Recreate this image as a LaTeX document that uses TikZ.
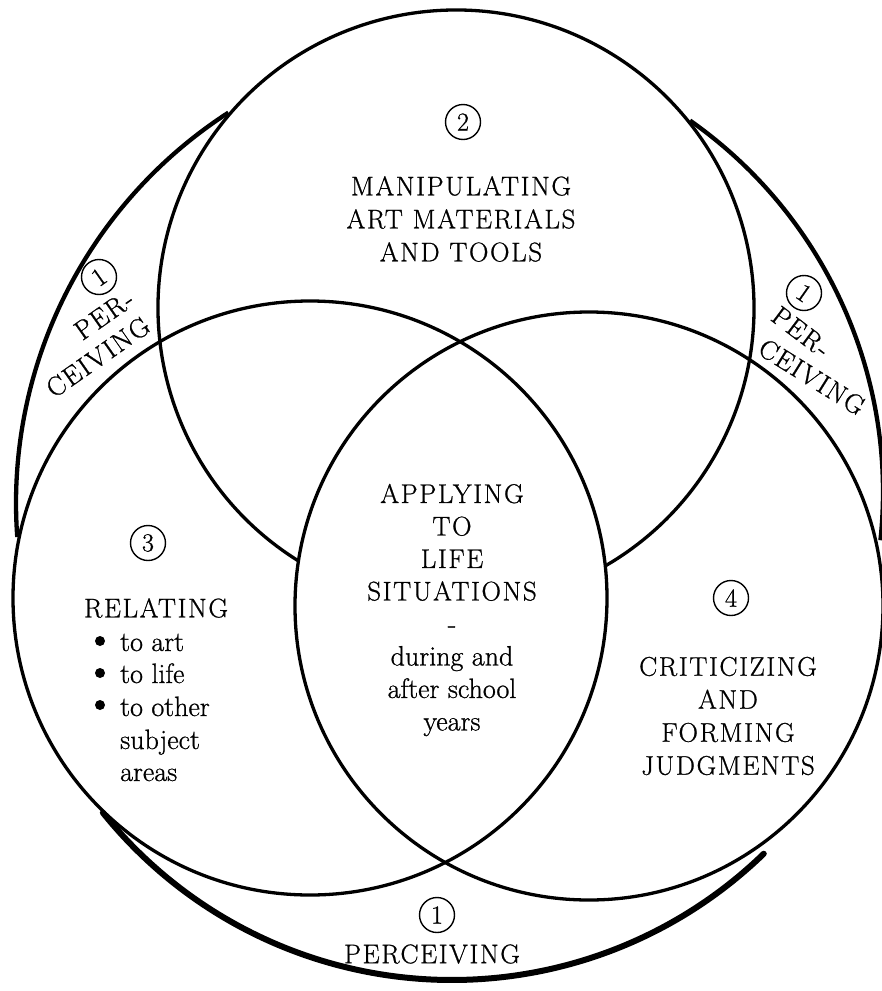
\documentclass[tikz,border=0pt]{standalone}
\usepackage{fontspec}
\setmainfont{Latin Modern Roman}[FakeBold=0.8]
\begin{document}
\begin{tikzpicture}[x=1pt,y=-1pt,
  ring/.style={line width=3.3pt},
  outerarc/.style={line width=4.3pt},
  bottomarc/.style={line width=6pt, line cap=round},
  capsfont/.style={font=\fontsize{27}{33}\selectfont\addfontfeature{LetterSpace=6}},
  lowfont/.style={font=\fontsize{28}{32.5}\selectfont},
  num/.style={draw, circle, line width=1.4pt, minimum size=35pt, inner sep=0pt, font=\fontsize{26}{26}\selectfont},
  lbl/.style={inner sep=0pt}]
\useasboundingbox (0,0) rectangle (882,991);
% three main circles
\draw[ring] (310,598) circle[radius=297];
\draw[ring] (589,606) circle[radius=294];
\draw[ring] (456,308) ++(121.9:298) arc[start angle=121.9, end angle=419.9, radius=298];
% outer "perceiving" arcs
\draw[outerarc] (481,503) ++(175.8:465) arc[start angle=175.8, end angle=237.1, radius=465];
\draw[outerarc] (429,492) ++(-54.9:454) arc[start angle=-54.9, end angle=6.1, radius=454];
\draw[bottomarc] (452,532) ++(45.9:448) arc[start angle=45.9, end angle=141.2, radius=448];
% top circle
\node[num] (n2) at (463,122) {2};
\node[lbl, capsfont, align=center] (manip) at (461,219) {MANIPULATING\\ART MATERIALS\\AND TOOLS};
% left circle
\node[num] (n3) at (148,543) {3};
\node[lbl, capsfont] (relating) at (156,608) {RELATING};
\fill (100,641) circle[radius=5];
\fill (100,673) circle[radius=5];
\fill (100,705) circle[radius=5];
\node[lbl, lowfont, anchor=base west] (r1) at (120,651) {to art};
\node[lbl, lowfont, anchor=base west] (r2) at (120,683) {to life};
\node[lbl, lowfont, anchor=base west] (r3) at (120,716) {to other};
\node[lbl, lowfont, anchor=base west] (r4) at (120,749) {subject};
\node[lbl, lowfont, anchor=base west] (r5) at (120,781) {areas};
% centre
\node[lbl, lowfont, align=center] (apply) at (452,610) {{\fontsize{27}{32.5}\selectfont\addfontfeature{LetterSpace=6}APPLYING}\\{\fontsize{27}{32.5}\selectfont\addfontfeature{LetterSpace=6}TO}\\{\fontsize{27}{32.5}\selectfont\addfontfeature{LetterSpace=6}LIFE}\\{\fontsize{27}{32.5}\selectfont\addfontfeature{LetterSpace=6}SITUATIONS}\\-\\during and\\after school\\years};
% right circle
\node[num] (n4) at (731,598) {4};
\node[lbl, capsfont, align=center] (crit) at (728,716) {CRITICIZING\\AND\\FORMING\\JUDGMENTS};
% perceiving labels
\node[num, rotate=35] (n1a) at (99,277) {1};
\node[lbl, capsfont, rotate=35] (perA) at (104,315) {PER-};
\node[lbl, capsfont, rotate=35] (ceivA) at (98,357) {CEIVING};
\node[num, rotate=-35] (n1b) at (804,293) {1};
\node[lbl, capsfont, rotate=-37] (perB) at (801,332) {PER-};
\node[lbl, capsfont, rotate=-32] (ceivB) at (812,377) {CEIVING};
\node[num] (n1c) at (437,915) {1};
\node[lbl, capsfont] (perC) at (432,954) {PERCEIVING};
\end{tikzpicture}
\end{document}
